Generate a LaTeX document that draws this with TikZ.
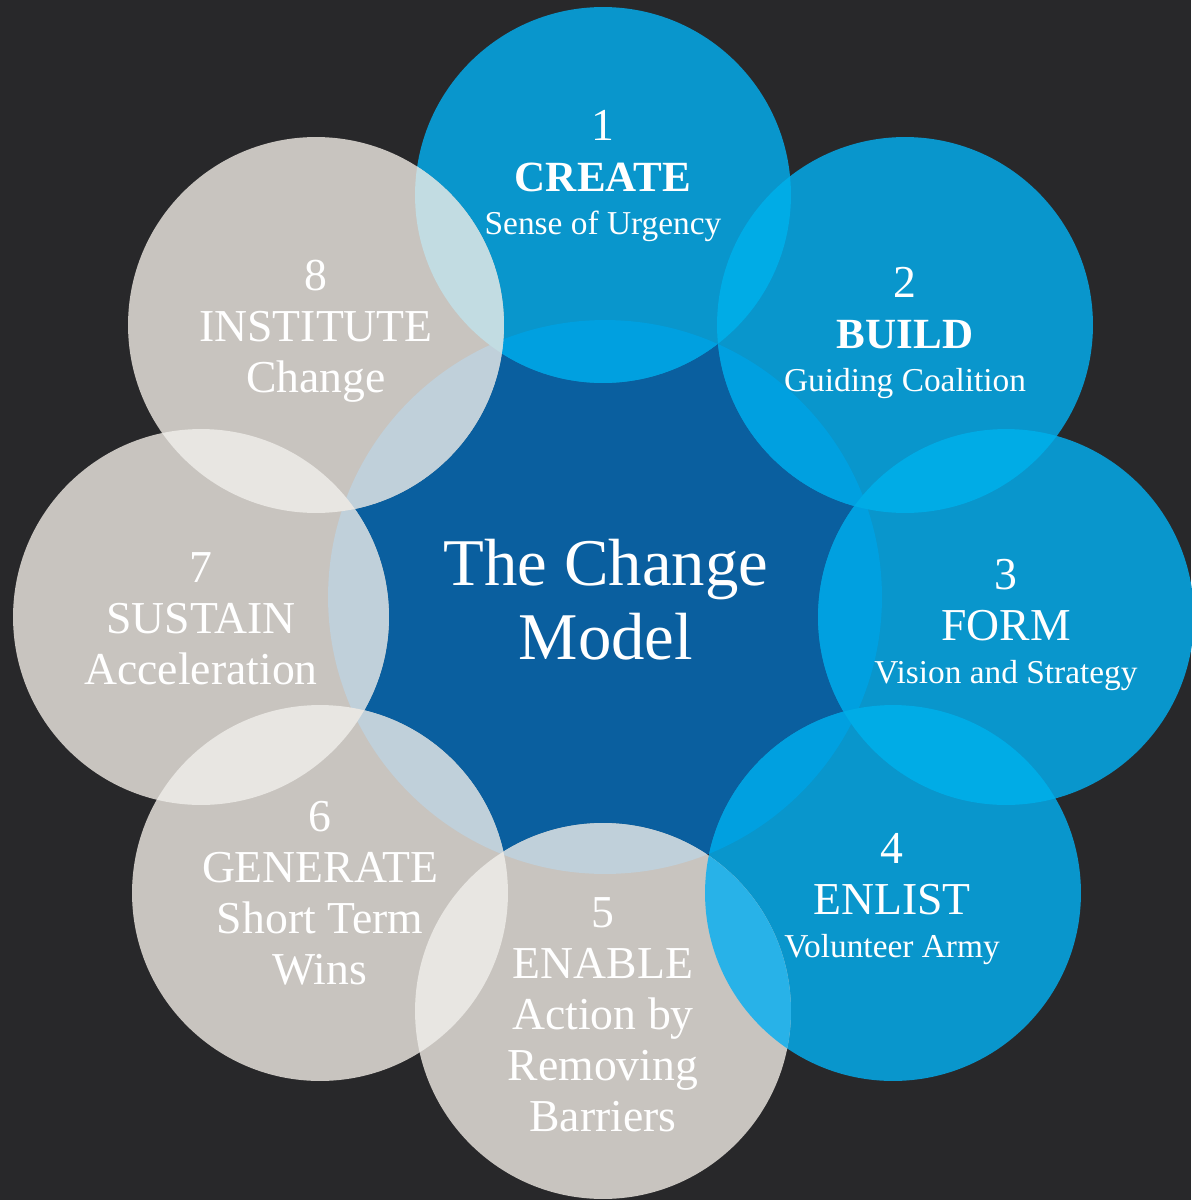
\documentclass[tikz,border=0pt]{standalone}
\usepackage{fontspec}
\setmainfont{Liberation Serif}
\usepackage{tikz}
\usetikzlibrary{positioning}

\definecolor{bgcol}{HTML}{28282A}
\definecolor{hubcol}{HTML}{0A5F9F}
\definecolor{bluecol}{HTML}{0996CC}
\definecolor{greycol}{HTML}{C8C4BF}
\definecolor{bluehub}{HTML}{00A0E0}
\definecolor{greyhub}{HTML}{C0D0DA}
\definecolor{blueblue}{HTML}{00ACE6}
\definecolor{greygrey}{HTML}{E8E6E2}
\definecolor{greyblue}{HTML}{C2DCE2}
\definecolor{bluegrey}{HTML}{28B2E8}

\tikzstyle{steptxt} = [text=white, align=center, font=\fontsize{26}{29}\selectfont, inner sep=0pt]
\tikzstyle{hubtxt} = [text=white, align=center, font=\fontsize{38}{42}\selectfont, inner sep=0pt]
\newcommand{\headtxt}[1]{{\fontsize{24.5}{29}\selectfont\bfseries #1}}
\newcommand{\subtxt}[1]{{\fontsize{19}{22}\selectfont #1}}
\newcommand{\rr}{3.76cm}
\newcommand{\rhub}{5.54cm}
% clip one circle, fill the other
\newcommand{\lens}[5]{\begin{scope}\clip (#1) circle (#2); \fill[#5] (#3) circle (#4);\end{scope}}

\begin{document}
\begin{tikzpicture}[x=0.02cm, y=-0.02cm]
        % Fondo
        \fill[bgcol] (0,0) rectangle (1191,1200);
        \useasboundingbox (0,0) rectangle (1191,1200);

        % Centros
        \coordinate (hub) at (605,597);
        \coordinate (c1) at (603,195);
        \coordinate (c2) at (905,325);
        \coordinate (c3) at (1006,617);
        \coordinate (c4) at (893,893);
        \coordinate (c5) at (603,1011);
        \coordinate (c6) at (320,893);
        \coordinate (c7) at (201,617);
        \coordinate (c8) at (316,325);

        % Circulos
        \fill[hubcol] (hub) circle (\rhub);
        \foreach \i in {1,2,3,4} \fill[bluecol] (c\i) circle (\rr);
        \foreach \i in {5,6,7,8} \fill[greycol] (c\i) circle (\rr);

        % Intersecciones
        \foreach \i in {1,2,3,4} \lens{hub}{\rhub}{c\i}{\rr}{bluehub};
        \foreach \i in {5,6,7,8} \lens{hub}{\rhub}{c\i}{\rr}{greyhub};
        \lens{c1}{\rr}{c2}{\rr}{blueblue}
        \lens{c2}{\rr}{c3}{\rr}{blueblue}
        \lens{c3}{\rr}{c4}{\rr}{blueblue}
        \lens{c4}{\rr}{c5}{\rr}{bluegrey}
        \lens{c5}{\rr}{c6}{\rr}{greygrey}
        \lens{c6}{\rr}{c7}{\rr}{greygrey}
        \lens{c7}{\rr}{c8}{\rr}{greygrey}
        \lens{c8}{\rr}{c1}{\rr}{greyblue}

        % Textos (base = ultima linea)
        \node [hubtxt, anchor=base] (title) at (606,659) {The Change\\Model};
        \node [steptxt, anchor=base] (t1) at (603,234) {1\\\headtxt{CREATE}\\[-5pt]\subtxt{Sense of Urgency}};
        \node [steptxt, anchor=base] (t2) at (905,391) {2\\\headtxt{BUILD}\\[-5pt]\subtxt{Guiding Coalition}};
        \node [steptxt, anchor=base] (t3) at (1006,683) {3\\FORM\\[-5pt]\subtxt{Vision and Strategy}};
        \node [steptxt, anchor=base] (t4) at (892,957) {4\\ENLIST\\[-5pt]\subtxt{Volunteer Army}};
        \node [steptxt, anchor=base] (t5) at (603,1131) {5\\ENABLE\\Action by\\Removing\\Barriers};
        \node [steptxt, anchor=base] (t6) at (320,984) {6\\GENERATE\\Short Term\\Wins};
        \node [steptxt, anchor=base] (t7) at (201,684) {7\\SUSTAIN\\Acceleration};
        \node [steptxt, anchor=base] (t8) at (316,392) {8\\INSTITUTE\\Change};
\end{tikzpicture}
\end{document}
